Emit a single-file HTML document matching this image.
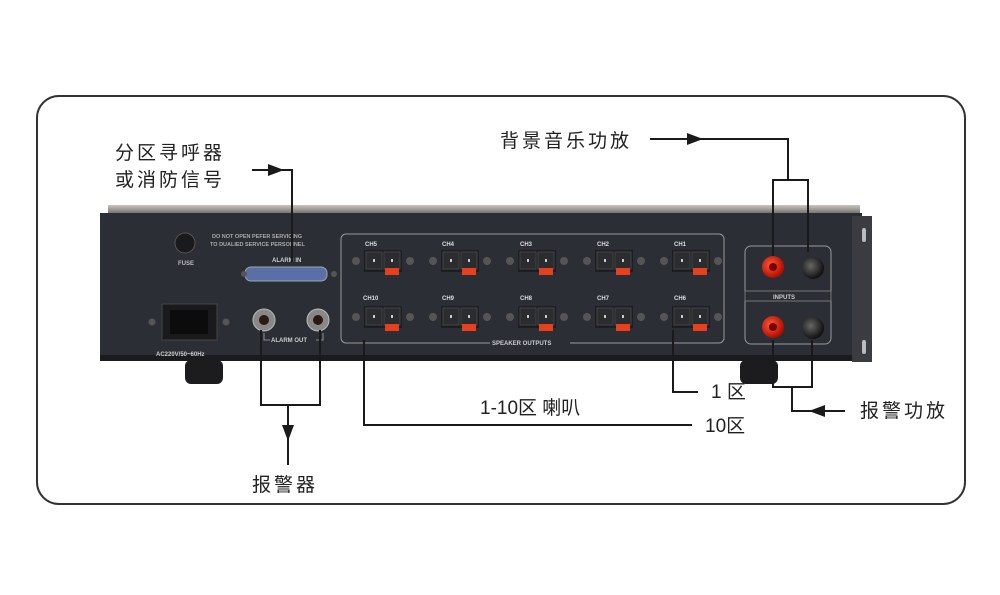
<!DOCTYPE html>
<html><head><meta charset="utf-8"><style>
html,body{margin:0;padding:0;background:#fff}
svg{display:block}
text{font-family:"Liberation Sans","Noto Sans CJK SC",sans-serif;fill:#222}
</style></head><body>
<svg width="1000" height="595" viewBox="0 0 1000 595" xmlns="http://www.w3.org/2000/svg">
<defs>
<linearGradient id="lip" x1="0" y1="0" x2="0" y2="1"><stop offset="0" stop-color="#c9c6bf"/><stop offset="1" stop-color="#5a5855"/></linearGradient>
<radialGradient id="red" cx="0.4" cy="0.4" r="0.6"><stop offset="0" stop-color="#ff5a3a"/><stop offset="1" stop-color="#b00c00"/></radialGradient>
<radialGradient id="blk" cx="0.4" cy="0.4" r="0.6"><stop offset="0" stop-color="#666"/><stop offset="1" stop-color="#111"/></radialGradient>
<g id="term">
<circle cx="-27" cy="0" r="4" fill="#555"/><circle cx="27" cy="0" r="4" fill="#555"/>
<rect x="-19" y="-11" width="38" height="22" fill="#1d1e22"/>
<rect x="-17" y="-9" width="16" height="17" fill="#2a2c30" stroke="#444"/>
<rect x="1" y="-9" width="16" height="17" fill="#2a2c30" stroke="#444"/>
<rect x="-10" y="-2" width="2" height="3" fill="#ccc"/><rect x="8" y="-2" width="2" height="3" fill="#ccc"/>
<rect x="2" y="7" width="14" height="7" fill="#e8401c"/>
</g>
</defs>
<rect x="37" y="96" width="928" height="408" rx="22" fill="none" stroke="#333" stroke-width="2"/>

<!-- device -->
<rect x="108" y="205" width="752" height="11" fill="url(#lip)"/>
<rect x="100" y="213" width="762" height="148" fill="#2b2e35"/>
<rect x="100" y="355" width="762" height="6" fill="#1a1b1f"/>
<rect x="852" y="216" width="20" height="146" fill="#3a3c42"/>
<rect x="862" y="228" width="4" height="14" fill="#bbb" rx="2"/><rect x="862" y="340" width="4" height="14" fill="#bbb" rx="2"/>
<rect x="185" y="360" width="38" height="24" rx="6" fill="#1c1c1e"/>
<rect x="740" y="360" width="38" height="24" rx="6" fill="#1c1c1e"/>
<!-- fuse -->
<circle cx="185" cy="243" r="10" fill="#1a1a1c" stroke="#555"/>
<text x="178" y="265" font-size="6" style="fill:#bbb" font-weight="bold">FUSE</text>
<text x="212" y="238" font-size="5.5" style="fill:#aaa" font-weight="bold">DO NOT OPEN PEFER SERVICING</text>
<text x="210" y="246" font-size="5.5" style="fill:#aaa" font-weight="bold">TO DUALIED SERVICE PERSONNEL</text>
<text x="272" y="262" font-size="6" style="fill:#ccc" font-weight="bold">ALARM IN</text>
<rect x="245" y="267" width="82" height="14" rx="6" fill="#5a6fa6" stroke="#9aa" />
<circle cx="244" cy="274" r="3" fill="#555"/><circle cx="334" cy="274" r="3" fill="#555"/>
<!-- power -->
<rect x="162" y="304" width="55" height="36" fill="#1a1a1c" stroke="#444"/>
<rect x="170" y="310" width="38" height="24" fill="#0c0c0d"/>
<circle cx="152" cy="322" r="3.5" fill="#555"/><circle cx="226" cy="322" r="3.5" fill="#555"/>
<text x="156" y="356" font-size="6" style="fill:#ccc" font-weight="bold">AC220V/50~60Hz</text>
<!-- jacks -->
<circle cx="264" cy="320" r="11" fill="#888" stroke="#bbb"/><circle cx="264" cy="320" r="5" fill="#2a1a10"/>
<circle cx="318" cy="320" r="11" fill="#888" stroke="#bbb"/><circle cx="318" cy="320" r="5" fill="#2a1a10"/>
<path d="M264 333 V340 H323 V333" fill="none" stroke="#aaa" stroke-width="0.8"/>
<rect x="270" y="336" width="46" height="7" fill="#2b2e35"/>
<text x="271" y="342" font-size="6" style="fill:#ccc" font-weight="bold">ALARM OUT</text>
<!-- speaker panel -->
<rect x="341" y="234" width="383" height="109" rx="5" fill="none" stroke="#999" stroke-width="1"/>
<rect x="490" y="338" width="80" height="9" fill="#2b2e35"/>
<text x="492" y="345" font-size="6" style="fill:#ccc" font-weight="bold">SPEAKER OUTPUTS</text>
<g font-size="6" font-weight="bold" style="fill:#ddd">
<text x="365" y="246" style="fill:#ddd">CH5</text><text x="442" y="246" style="fill:#ddd">CH4</text><text x="520" y="246" style="fill:#ddd">CH3</text><text x="597" y="246" style="fill:#ddd">CH2</text><text x="674" y="246" style="fill:#ddd">CH1</text>
<text x="363" y="300" style="fill:#ddd">CH10</text><text x="442" y="300" style="fill:#ddd">CH9</text><text x="520" y="300" style="fill:#ddd">CH8</text><text x="597" y="300" style="fill:#ddd">CH7</text><text x="674" y="300" style="fill:#ddd">CH6</text>
</g>
<use href="#term" x="383" y="261"/><use href="#term" x="460" y="261"/><use href="#term" x="537" y="261"/><use href="#term" x="614" y="261"/><use href="#term" x="691" y="261"/>
<use href="#term" x="383" y="317"/><use href="#term" x="460" y="317"/><use href="#term" x="537" y="317"/><use href="#term" x="614" y="317"/><use href="#term" x="691" y="317"/>
<!-- inputs -->
<rect x="745" y="246" width="86" height="98" rx="6" fill="none" stroke="#999"/>
<rect x="745" y="291" width="86" height="10" fill="#2b2e35" stroke="#777"/>
<text x="773" y="299" font-size="6" style="fill:#ccc" font-weight="bold">INPUTS</text>
<circle cx="773" cy="267" r="11" fill="url(#red)"/><circle cx="773" cy="267" r="4" fill="#700"/>
<circle cx="813" cy="268" r="11" fill="url(#blk)"/>
<circle cx="773" cy="327" r="11" fill="url(#red)"/><circle cx="773" cy="327" r="4" fill="#700"/>
<circle cx="813" cy="328" r="11" fill="url(#blk)"/>

<!-- connectors -->
<g stroke="#1a1a1a" stroke-width="2" fill="none">
<path d="M252 170 H292 V262"/>
<path d="M650 139 H788 V180"/>
<path d="M773 256 V180 H808 V252"/>
<path d="M261 330 V405 H320 V330"/>
<path d="M288 405 V465"/>
<path d="M364 340 V425 H692"/>
<path d="M673 330 V392 H698"/>
<path d="M773 340 V387 H812 V340"/>
<path d="M792 387 V411 H845"/>
</g>
<g fill="#1a1a1a">
<polygon points="284,170 268,164 268,176"/>
<polygon points="703,139 687,133 687,145"/>
<polygon points="288,441 282,425 294,425"/>
<polygon points="809,411 825,405 825,417"/>
</g>
<g font-size="19" letter-spacing="3">
<text x="115" y="159">分区寻呼器</text>
<text x="115" y="186">或消防信号</text>
<text x="500" y="147">背景音乐功放</text>
<text x="252" y="491">报警器</text>
<text x="860" y="417">报警功放</text>
</g>
<text x="480" y="414" font-size="19">1-10区 喇叭</text>
<text x="711" y="398" font-size="19">1 区</text>
<text x="705" y="432" font-size="19">10区</text>
</svg>
</body></html>
